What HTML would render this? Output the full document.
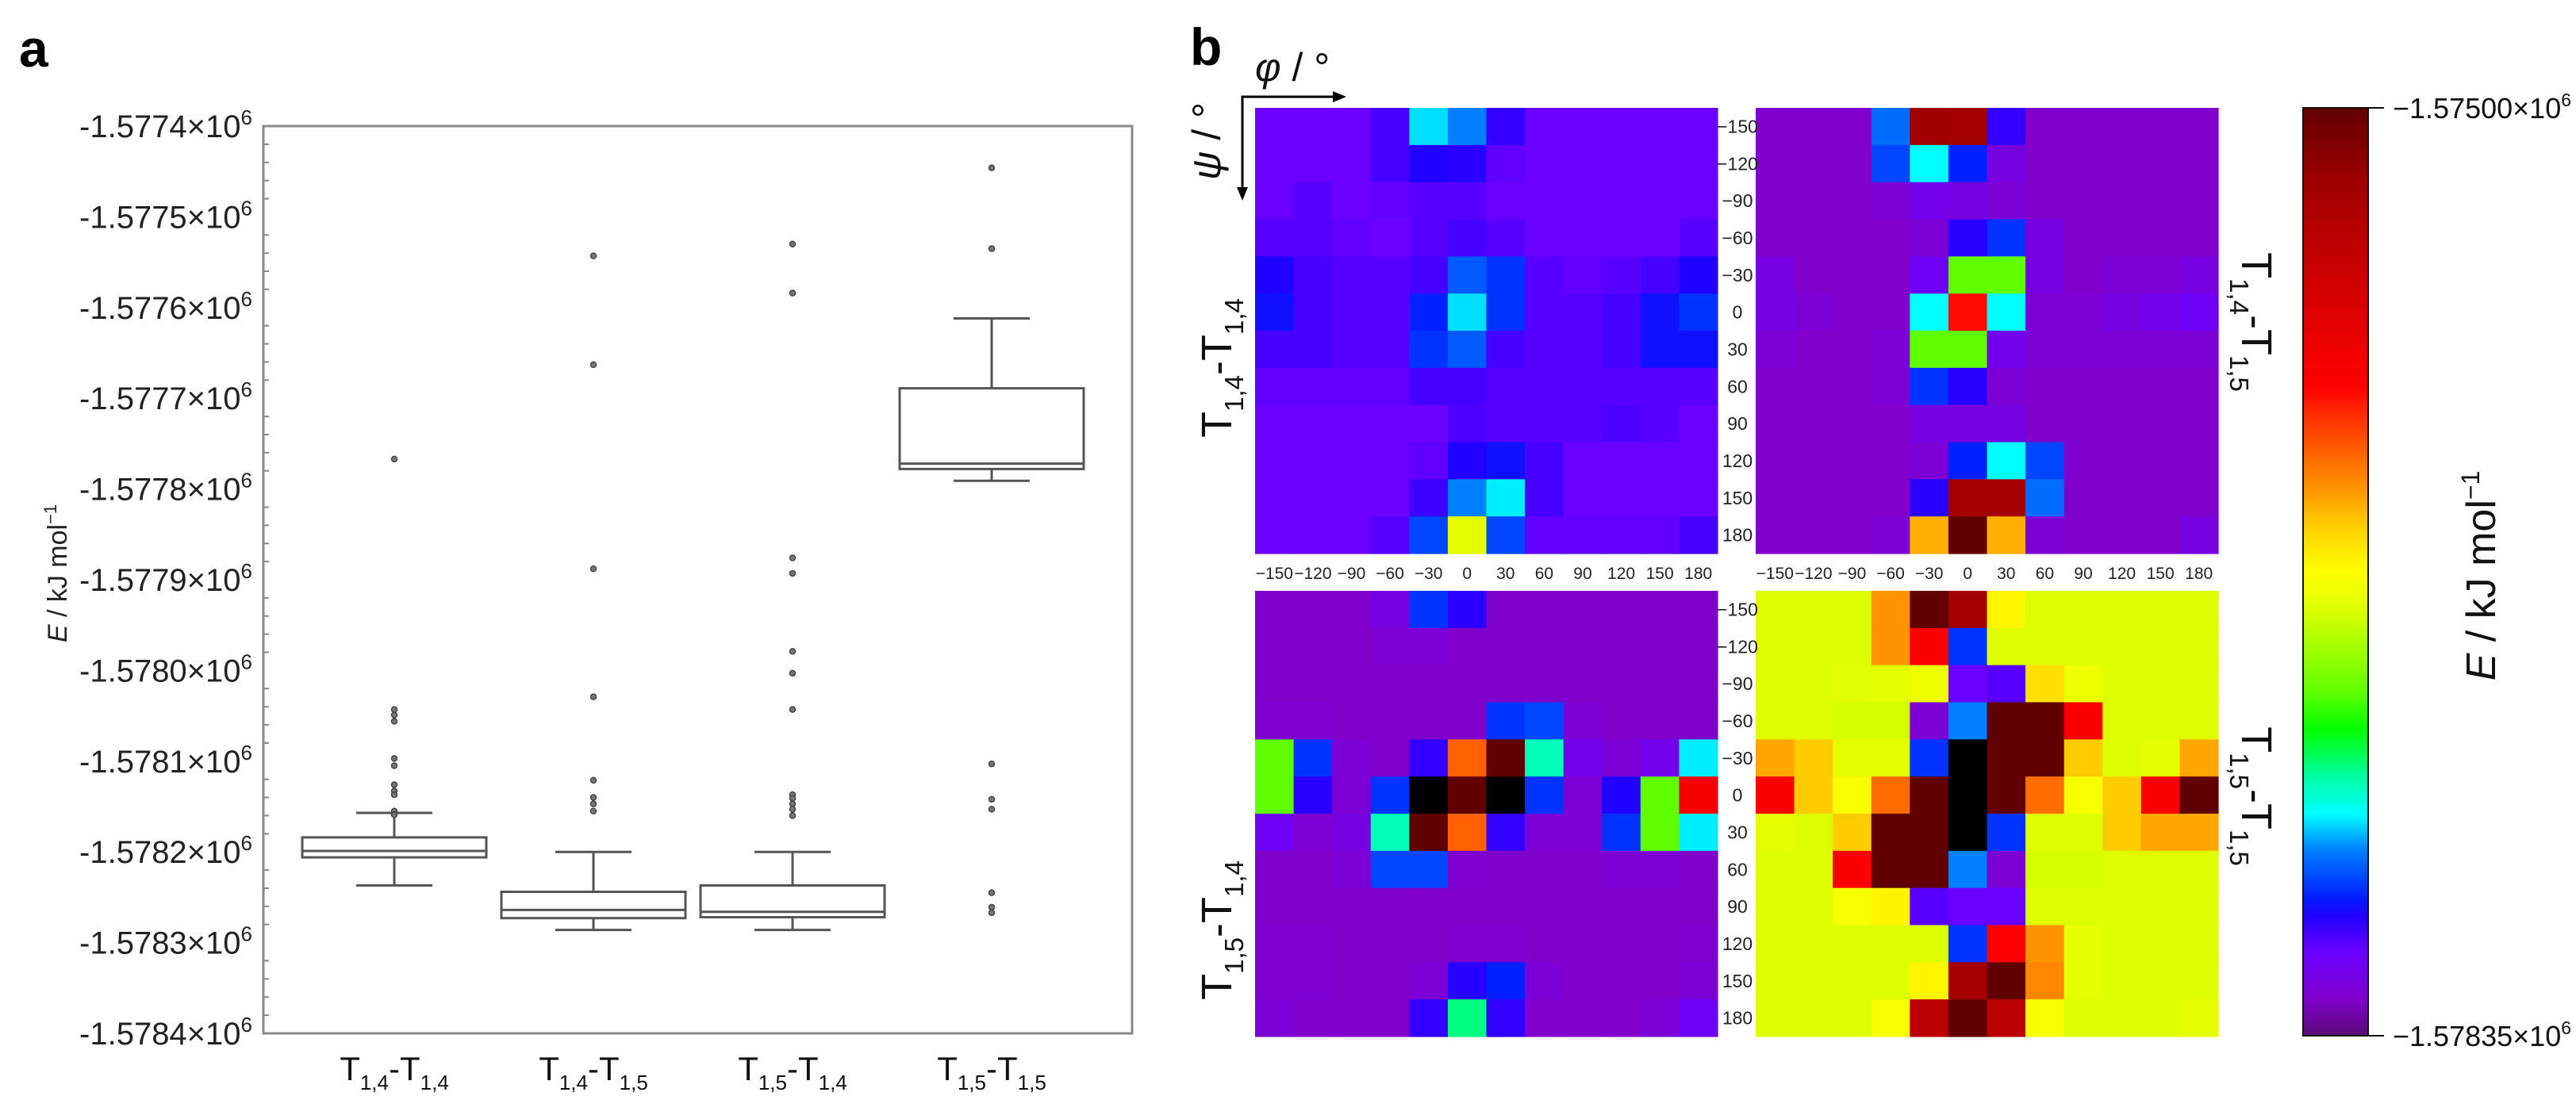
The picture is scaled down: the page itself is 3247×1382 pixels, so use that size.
<!DOCTYPE html>
<html><head><meta charset="utf-8"><style>
html,body{margin:0;padding:0;background:#fff;}
svg{display:block;font-family:"Liberation Sans",sans-serif;}
</style></head><body>
<svg id="fig" width="3247" height="1382" viewBox="0 0 3247 1382" xmlns="http://www.w3.org/2000/svg">
<text x="24" y="84" font-size="66" font-weight="bold">a</text>
<text x="1500" y="82" font-size="66" font-weight="bold">b</text>
<g id="boxplot"></g>
<g id="heat"></g>
</svg>
<script>
// ---------- Panel a data ----------
const categories = ["1,4|1,4","1,4|1,5","1,5|1,4","1,5|1,5"];
const whiskerHigh = [-1578157,-1578200,-1578200,-1577612];
const q3Values    = [-1578184,-1578244,-1578237,-1577689];
const medians     = [-1578199,-1578264,-1578266,-1577772];
const q1Values    = [-1578206,-1578273,-1578272,-1577778];
const whiskerLow  = [-1578237,-1578286,-1578286,-1577791];
const outliers1 = [-1577767,-1578043,-1578049,-1578056,-1578097,-1578105,-1578126,-1578133,-1578137,-1578155,-1578159];
const outliers2 = [-1577543,-1577663,-1577888,-1578029,-1578121,-1578140,-1578147,-1578155];
const outliers3 = [-1577530,-1577584,-1577876,-1577893,-1577979,-1578003,-1578043,-1578137,-1578141,-1578147,-1578153,-1578160];
const outliers4 = [-1577446,-1577535,-1578103,-1578142,-1578153,-1578245,-1578261,-1578267];
const yTickValues = [-1577400,-1577500,-1577600,-1577700,-1577800,-1577900,-1578000,-1578100,-1578200,-1578300,-1578400];
const yTickLabels = ["-1.5774","-1.5775","-1.5776","-1.5777","-1.5778","-1.5779","-1.5780","-1.5781","-1.5782","-1.5783","-1.5784"];

// ---------- Panel b data (normalized energy level, 0 = -1.57835e6, 1 = -1.575e6, >1 beyond scale) ----------
const angleLabels = ["−150","−120","−90","−60","−30","0","30","60","90","120","150","180"];
const mapTitles = ["1,4|1,4","1,4|1,5","1,5|1,4","1,5|1,5"];
const gridT14T14 = [
[.09,.09,.09,.11,.23,.20,.12,.09,.09,.09,.09,.09],
[.09,.09,.09,.11,.13,.125,.095,.09,.09,.09,.09,.09],
[.09,.10,.09,.095,.10,.10,.09,.09,.09,.09,.09,.09],
[.10,.10,.095,.09,.10,.11,.10,.09,.09,.09,.09,.10],
[.13,.11,.10,.10,.11,.18,.16,.10,.095,.10,.11,.13],
[.14,.11,.10,.10,.15,.23,.16,.10,.10,.11,.14,.16],
[.11,.11,.10,.10,.16,.18,.11,.10,.10,.11,.14,.14],
[.095,.095,.095,.095,.11,.11,.10,.10,.10,.10,.10,.10],
[.09,.09,.09,.09,.09,.105,.10,.10,.10,.105,.10,.09],
[.09,.09,.09,.09,.095,.13,.14,.11,.09,.09,.09,.09],
[.09,.09,.09,.09,.115,.20,.235,.11,.09,.09,.09,.09],
[.09,.09,.09,.10,.17,.47,.17,.095,.095,.095,.095,.11]];
const gridT14T15 = [
[.04,.04,.04,.19,.92,.91,.12,.04,.04,.04,.04,.04],
[.04,.04,.04,.17,.24,.15,.06,.04,.04,.04,.04,.04],
[.04,.04,.04,.05,.07,.06,.05,.04,.04,.04,.04,.04],
[.04,.04,.04,.04,.05,.125,.16,.06,.04,.04,.04,.04],
[.06,.04,.04,.04,.08,.37,.37,.06,.04,.05,.05,.06],
[.06,.05,.04,.04,.24,.69,.24,.05,.05,.06,.07,.08],
[.05,.04,.04,.05,.37,.37,.07,.05,.05,.05,.05,.05],
[.04,.04,.04,.05,.16,.125,.05,.04,.04,.04,.04,.04],
[.04,.04,.04,.04,.06,.06,.06,.04,.04,.04,.04,.04],
[.04,.04,.04,.04,.05,.15,.24,.17,.04,.04,.04,.04],
[.04,.04,.04,.04,.125,.91,.91,.19,.04,.04,.04,.04],
[.04,.04,.04,.05,.57,1.0,.57,.05,.04,.04,.04,.06]];
const gridT15T14 = [
[.04,.04,.04,.06,.16,.125,.04,.04,.04,.04,.04,.04],
[.04,.04,.04,.05,.05,.04,.04,.04,.04,.04,.04,.04],
[.04,.04,.04,.04,.04,.04,.04,.04,.04,.04,.04,.04],
[.045,.045,.04,.04,.04,.04,.16,.17,.05,.04,.04,.04],
[.37,.16,.05,.04,.12,.63,1.0,.27,.07,.05,.07,.235],
[.37,.125,.05,.16,1.1,1.0,1.1,.16,.05,.13,.37,.72],
[.08,.05,.06,.27,1.0,.63,.12,.05,.05,.16,.37,.235],
[.04,.04,.05,.17,.17,.045,.04,.04,.04,.05,.05,.04],
[.04,.04,.04,.04,.04,.04,.04,.04,.04,.04,.04,.04],
[.045,.045,.04,.04,.04,.045,.045,.04,.04,.04,.04,.045],
[.045,.045,.04,.04,.05,.125,.15,.05,.04,.04,.04,.05],
[.05,.04,.04,.04,.12,.29,.12,.04,.04,.04,.05,.08]];
const gridT15T15 = [
[.46,.46,.46,.59,1.0,.91,.51,.46,.46,.46,.46,.46],
[.46,.46,.46,.59,.71,.16,.46,.46,.46,.46,.46,.46],
[.46,.46,.465,.47,.48,.09,.10,.53,.48,.46,.46,.46],
[.46,.46,.455,.455,.05,.20,1.0,1.0,.71,.46,.46,.46],
[.575,.55,.47,.47,.16,1.1,1.0,1.0,.55,.46,.47,.575],
[.71,.55,.49,.62,1.0,1.1,1.0,.62,.49,.55,.71,1.0],
[.47,.46,.55,1.0,1.0,1.1,.16,.46,.46,.55,.575,.575],
[.46,.46,.71,1.0,1.0,.20,.05,.455,.455,.46,.46,.46],
[.46,.46,.49,.51,.10,.09,.09,.46,.46,.46,.46,.46],
[.46,.46,.46,.46,.46,.16,.70,.59,.47,.46,.46,.46],
[.46,.46,.46,.46,.51,.91,1.0,.60,.47,.46,.46,.46],
[.46,.46,.46,.49,.86,1.0,.86,.49,.46,.46,.46,.47]];
const colorbarLabels = ["−1.57500×10","−1.57835×10"];

const NS="http://www.w3.org/2000/svg";
function mk(tag, attrs, parent){const e=document.createElementNS(NS,tag);for(const k in attrs)e.setAttribute(k,attrs[k]);if(parent)parent.appendChild(e);return e;}

// ---------- Panel a ----------
const bp=document.getElementById('boxplot');
const PL=332,PR=1427,PT=159,PB=1303;
const yMax=-1577400,yMin=-1578400;
function yScale(v){return PT+(yMax-v)/(yMax-yMin)*(PB-PT);}
function xScale(i){return 497+i*251;}
const frame=mk('rect',{x:PL,y:PT,width:PR-PL,height:PB-PT,fill:'none',stroke:'#888',"stroke-width":3},bp);


for(let v=yMax; v>=yMin; v-=20){
  const y=yScale(v); const major=((yMax-v)%100===0);
  const t=mk('line',{x1:PL,x2:PL+(major?0:7),y1:y,y2:y,stroke:'#888',"stroke-width":2},bp);
  
  
}
yTickValues.forEach((v,i)=>{
  const y=yScale(v);
  const t=mk('text',{x:318,y:y+14,"font-size":40,"text-anchor":"end",fill:'#222'},bp);
  
  
  t.innerHTML=yTickLabels[i]+'\u00d710<tspan dy="-16" font-size="26">6</tspan>';
});
const yt=mk('text',{transform:'translate(84,723) rotate(-90)',"text-anchor":"middle","font-size":34,fill:'#222'},bp);


yt.innerHTML='<tspan font-style="italic">E</tspan> / kJ mol<tspan dy="-13" font-size="22">−1</tspan>';
function tLabel(code,x,y,fs,parent,transform){
  const [a,b]=code.split('|');
  const t=mk('text',{x:x,y:y,"font-size":fs,"text-anchor":"middle",fill:'#111'},parent);
  if(transform)t.setAttribute('transform',transform);
  const s=Math.round(fs*0.62),d=Math.round(fs*0.28);
  t.innerHTML='T<tspan dy="'+d+'" font-size="'+s+'">'+a+'</tspan><tspan dy="'+(-d)+'">-T</tspan><tspan dy="'+d+'" font-size="'+s+'">'+b+'</tspan>';
  return t;
}
const outlierSets=[outliers1,outliers2,outliers3,outliers4];
categories.forEach((c,i)=>{
  const cx=xScale(i),hw=116,cw=48;
  const g=mk('g',{},bp);
  
  
  const st={stroke:'#555',"stroke-width":3,fill:'none'};
  mk('line',Object.assign({x1:cx,x2:cx,y1:yScale(whiskerHigh[i]),y2:yScale(q3Values[i])},st),g);
  mk('line',Object.assign({x1:cx,x2:cx,y1:yScale(q1Values[i]),y2:yScale(whiskerLow[i])},st),g);
  mk('line',Object.assign({x1:cx-cw,x2:cx+cw,y1:yScale(whiskerHigh[i]),y2:yScale(whiskerHigh[i])},st),g);
  mk('line',Object.assign({x1:cx-cw,x2:cx+cw,y1:yScale(whiskerLow[i]),y2:yScale(whiskerLow[i])},st),g);
  mk('rect',Object.assign({x:cx-hw,y:yScale(q3Values[i]),width:2*hw,height:yScale(q1Values[i])-yScale(q3Values[i])},st),g);
  mk('line',Object.assign({x1:cx-hw,x2:cx+hw,y1:yScale(medians[i]),y2:yScale(medians[i])},st),g);
  outlierSets[i].forEach(v=>{
    const o=mk('circle',{cx:cx,cy:yScale(v),r:3.5,fill:'#777',stroke:'#444',"stroke-width":1.5},g);
    
    
  });
  const l=tLabel(c,cx,1362,42,bp);
  
  
});

// ---------- Panel b ----------
const hb=document.getElementById('heat');
const stops=[[0,'#5a0a78'],[.04,'#8000cc'],[.09,'#6a00ff'],[.13,'#2000ff'],[.15,'#0020ff'],[.20,'#0080ff'],[.24,'#00ffff'],[.28,'#00ffa0'],[.33,'#00ff00'],[.37,'#60ff00'],[.46,'#ddff00'],[.50,'#ffff00'],[.55,'#ffcc00'],[.58,'#ffa000'],[.63,'#ff6000'],[.70,'#ff0000'],[.85,'#c00000'],[.92,'#a00000'],[1,'#600000']];
function hex(h){return [1,3,5].map(k=>parseInt(h.substr(k,2),16));}
function cmap(v){
  if(v>1.02)return '#000000';
  v=Math.max(0,Math.min(1,v));
  for(let k=1;k<stops.length;k++){
    if(v<=stops[k][0]){const [a,ca]=stops[k-1],[b,cb]=stops[k];const t=(v-a)/(b-a);const A=hex(ca),B=hex(cb);
      return 'rgb('+A.map((x,j)=>Math.round(x+(B[j]-x)*t)).join(',')+')';}
  }
  return stops[stops.length-1][1];
}
const grids=[gridT14T14,gridT14T15,gridT15T14,gridT15T15];
const mapX=[1582,2213,1582,2213],mapY=[136,136,745,745],MW=583,MH=562;
grids.forEach((grid,m)=>{
  const g=mk('g',{},hb);
  
  
  const cw=MW/12,ch=MH/12;
  grid.forEach((row,r)=>row.forEach((v,c)=>{
    const cell=mk('rect',{x:mapX[m]+c*cw,y:mapY[m]+r*ch,width:cw+0.6,height:ch+0.6,fill:cmap(v)},g);
    
    
  }));
});
angleLabels.forEach((lab,i)=>{
  [136,745].forEach(y0=>{
    const t=mk('text',{x:2190,y:y0+(i+0.5)*MH/12+8,"font-size":23,"text-anchor":"middle",fill:'#222'},hb);
    
    
    t.textContent=lab;
  });
  [1582,2213].forEach(x0=>{
    const t=mk('text',{x:x0+(i+0.5)*MW/12,y:730,"font-size":21,"text-anchor":"middle",fill:'#222'},hb);
    
    
    t.textContent=lab;
  });
});
const lt1=tLabel(mapTitles[0],0,0,54,hb,'translate(1552,464) rotate(-90)');


const lt3=tLabel(mapTitles[2],0,0,54,hb,'translate(1552,1173) rotate(-90)');


const lt2=tLabel(mapTitles[1],0,0,54,hb,'translate(2826,406) rotate(90)');


const lt4=tLabel(mapTitles[3],0,0,54,hb,'translate(2826,1004) rotate(90)');


const ax=mk('g',{},hb);


mk('polyline',{points:'1682,122 1566,122 1566,238',fill:'none',stroke:'#000',"stroke-width":3},ax);
mk('polygon',{points:'1697,122 1680,115 1680,129',fill:'#000'},ax);
mk('polygon',{points:'1566,253 1559,236 1573,236',fill:'#000'},ax);
const phi=mk('text',{x:1582,y:102,"font-size":50,fill:'#111'},hb);


phi.innerHTML='<tspan font-style="italic">φ</tspan> / °';
const psi=mk('text',{transform:'translate(1538,178) rotate(-90)',"font-size":50,"text-anchor":"middle",fill:'#111'},hb);


psi.innerHTML='<tspan font-style="italic">ψ</tspan> / °';
const defs=mk('defs',{},document.getElementById('fig'));
const lg=mk('linearGradient',{id:'cbg',x1:0,y1:1,x2:0,y2:0},defs);
stops.forEach(s=>mk('stop',{offset:s[0],"stop-color":s[1]},lg));
const cb=mk('g',{},hb);


mk('rect',{x:2903,y:136,width:82,height:1170,fill:'url(#cbg)',stroke:'#111',"stroke-width":2},cb);
mk('line',{x1:2985,x2:3005,y1:136,y2:136,stroke:'#111',"stroke-width":2},cb);
mk('line',{x1:2985,x2:3005,y1:1306,y2:1306,stroke:'#111',"stroke-width":2},cb);
[[136,colorbarLabels[0]],[1306,colorbarLabels[1]]].forEach(([y,l])=>{
  const t=mk('text',{x:3016,y:y+13,"font-size":36,fill:'#111'},cb);
  
  
  t.innerHTML=l+'<tspan dy="-15" font-size="23">6</tspan>';
});
const ct=mk('text',{transform:'translate(3145,726) rotate(-90)',"font-size":52,"text-anchor":"middle",fill:'#111'},cb);


ct.innerHTML='<tspan font-style="italic">E</tspan> / kJ mol<tspan dy="-20" font-size="32">−1</tspan>';
</script>
</body></html>
